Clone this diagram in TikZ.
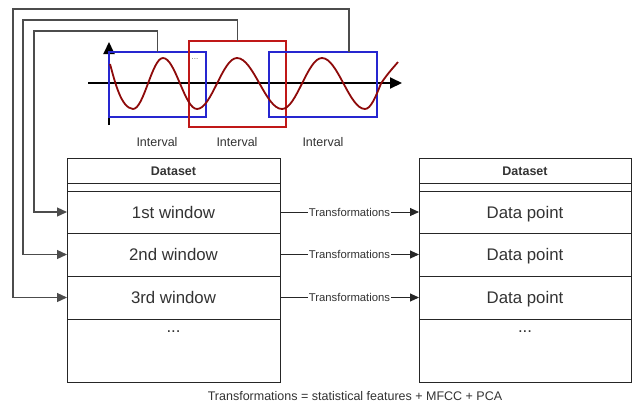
\documentclass[tikz,border=0pt]{standalone}
\usepackage{fontspec}
\setmainfont{Liberation Sans}
\usetikzlibrary{arrows.meta}
\definecolor{ivblue}{HTML}{2626D0}
\definecolor{ivred}{HTML}{C01818}
\definecolor{wavered}{HTML}{8E0A0A}
\tikzset{
  cell/.style={draw=black!85, line width=0.9pt, minimum width=213pt, inner sep=0pt, outer sep=0pt, text=black!80, text height=12pt, text depth=0pt, font=\fontsize{16.8}{19}\selectfont},
  headcell/.style={cell, minimum height=25pt, text height=9pt, font=\bfseries\fontsize{12.5}{14}\selectfont},
  gapcell/.style={cell, minimum height=8pt, text height=0pt},
  ivbox/.style={draw=#1, line width=2pt, inner sep=0pt, outer sep=0pt},
  loopline/.style={draw=black!70, line width=1.3pt, -{Triangle[length=10pt,width=9pt]}},
  arr/.style={draw=black!85, line width=0.9pt, -{Triangle[length=9pt,width=8pt]}},
  lbl/.style={fill=white, inner sep=0.5pt, text=black!80, font=\fontsize{11.3}{13}\selectfont},
  small/.style={text=black!80, font=\fontsize{12.5}{14}\selectfont}
}
\begin{document}
\begin{tikzpicture}[x=1pt,y=-1pt]
\useasboundingbox[fill=white] (0,0) rectangle (632,408);
\draw[line width=2pt, -{Triangle[length=12pt,width=11pt]}] (88,83) -- (402,83);
\draw[line width=2pt, -{Triangle[length=12pt,width=11pt]}] (109,125) -- (109,42);
\node[ivbox=ivblue, minimum width=97pt, minimum height=65pt] (iv1) at (157.5,84.5) {};
\node[ivbox=ivred, minimum width=97pt, minimum height=86pt] (iv2) at (237.5,84) {};
\node[ivbox=ivblue, minimum width=108pt, minimum height=65pt] (iv3) at (323,84.5) {};
\draw[wavered, line width=1.8pt] (110,64) .. controls (115,82) and (121,108) .. (133,109)
  cos (148,83.5) sin (163,58) cos (180,83.5) sin (197,109)
  cos (217,83.5) sin (237,58) cos (259.5,83.5) sin (282,109)
  cos (302,83.5) sin (322,58) cos (343.5,83.5) sin (365,109)
  cos (381,83.5) .. controls (388,73) and (393,68) .. (398,62);
\node[text=black!60, font=\fontsize{8}{9}\selectfont] (dots) at (195,59) {...};
\node[small] (int1) at (157,142) {Interval};
\node[small] (int2) at (237,142) {Interval};
\node[small] (int3) at (323,142) {Interval};

\node[headcell] (lhead) at (173.5,170.5) {Dataset};
\node[gapcell] (lgap) at (173.5,187) {};
\node[cell, minimum height=42pt] (w1) at (173.5,212) {1st window};
\node[cell, minimum height=43pt] (w2) at (173.5,254.5) {2nd window};
\node[cell, minimum height=43pt] (w3) at (173.5,297.5) {3rd window};
\node[cell, minimum height=63pt] (lrest) at (173.5,350.5) {};
\node[text=black!80, font=\fontsize{16.8}{19}\selectfont, anchor=base] (ldots) at (173.5,332) {...};

\node[headcell, minimum width=212pt] (rhead) at (525,170.5) {Dataset};
\node[gapcell, minimum width=212pt] (rgap) at (525,187) {};
\node[cell, minimum width=212pt, minimum height=42pt] (p1) at (525,212) {Data point};
\node[cell, minimum width=212pt, minimum height=43pt] (p2) at (525,254.5) {Data point};
\node[cell, minimum width=212pt, minimum height=43pt] (p3) at (525,297.5) {Data point};
\node[cell, minimum width=212pt, minimum height=63pt] (rrest) at (525,350.5) {};
\node[text=black!80, font=\fontsize{16.8}{19}\selectfont, anchor=base] (rdots) at (525,332) {...};

\draw[arr] (w1.east) -- node[lbl] {Transformations} (p1.west);
\draw[arr] (w2.east) -- node[lbl] {Transformations} (p2.west);
\draw[arr] (w3.east) -- node[lbl] {Transformations} (p3.west);

\draw[loopline] (iv1.north) |- (34,31) |- (w1.west);
\draw[loopline] (iv2.north) |- (23,20) |- (w2.west);
\draw[loopline] ([xshift=26pt]iv3.north) |- (13,9) |- (w3.west);

\node[small] (note) at (355,396) {Transformations = statistical features + MFCC + PCA};
\end{tikzpicture}
\end{document}
